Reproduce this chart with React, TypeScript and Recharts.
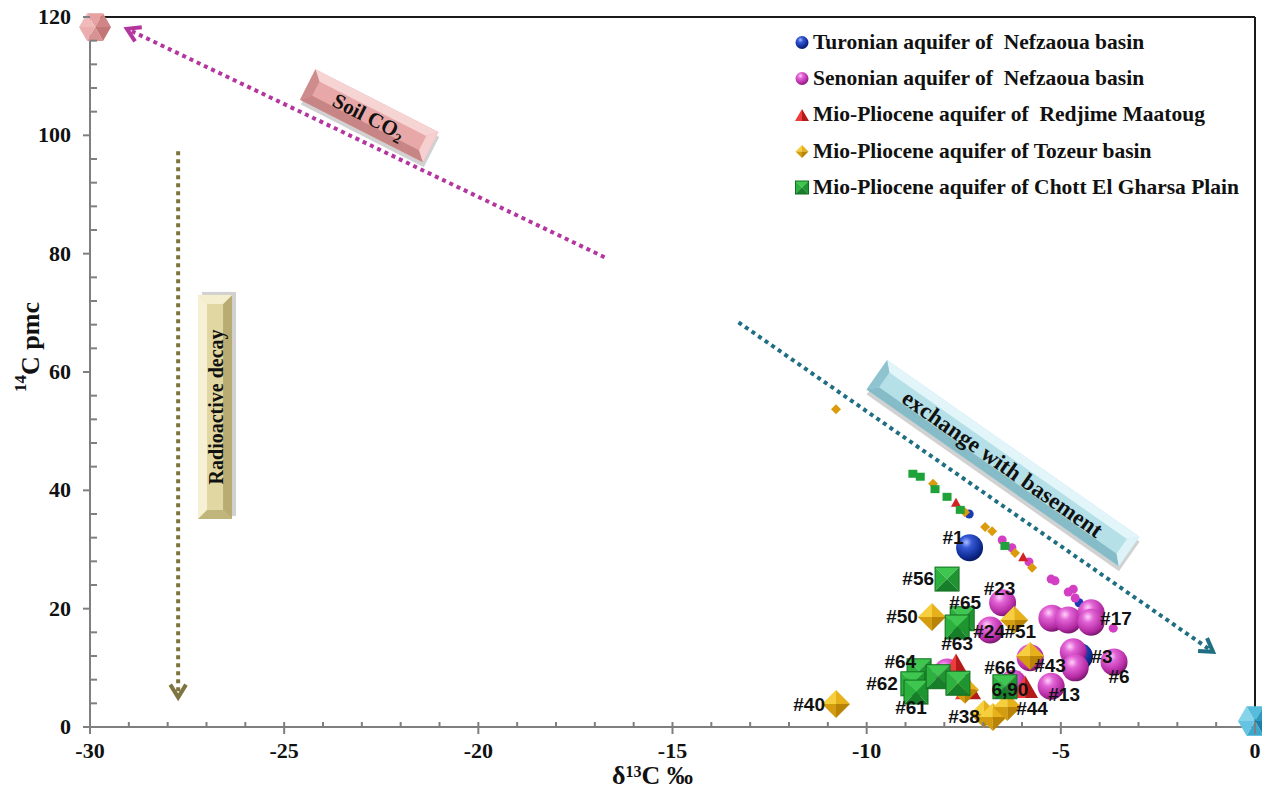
import React from "react";
import { ScatterChart, Scatter, XAxis, YAxis, ReferenceLine, ReferenceDot, Legend } from "recharts";

type Pt = { x: number; y: number; label?: string };

// Turonian aquifer of Nefzaoua basin
const turonianLarge: Pt[] = [
  { x: -7.35, y: 30.3, label: "#1" },
  { x: -4.52, y: 11.9, label: "#3" },
];
const turonianSmall: Pt[] = [
  { x: -7.36, y: 36.0 },
  { x: -4.53, y: 21.0 },
];

// Senonian aquifer of Nefzaoua basin
const senonianLarge: Pt[] = [
  { x: -6.5, y: 21.0, label: "#23" },
  { x: -6.82, y: 16.4, label: "#24" },
  { x: -5.23, y: 18.4 },
  { x: -4.81, y: 18.1 },
  { x: -4.22, y: 19.3 },
  { x: -4.22, y: 17.7, label: "#17" },
  { x: -4.68, y: 12.7 },
  { x: -4.63, y: 10.0 },
  { x: -3.63, y: 11.0, label: "#6" },
  { x: -5.25, y: 6.9, label: "#13" },
  { x: -5.79, y: 11.7 },
  { x: -6.23, y: 7.4, label: "#66" },
  { x: -7.93, y: 9.3 },
];
const senonianSmall: Pt[] = [
  { x: -6.51, y: 31.6 },
  { x: -6.26, y: 30.3 },
  { x: -5.82, y: 27.9 },
  { x: -5.25, y: 25.0 },
  { x: -5.15, y: 24.7 },
  { x: -4.81, y: 22.8 },
  { x: -4.68, y: 23.3 },
  { x: -4.63, y: 21.8 },
  { x: -4.22, y: 20.6 },
  { x: -3.65, y: 16.7 },
];

// Mio-Pliocene aquifer of Redjime Maatoug
const redjimeLarge: Pt[] = [
  { x: -7.7, y: 10.5 },
  { x: -7.39, y: 6.6 },
  { x: -5.92, y: 6.8 },
];
const redjimeSmall: Pt[] = [
  { x: -7.7, y: 37.9 },
  { x: -5.97, y: 28.7 },
];

// Mio-Pliocene aquifer of Tozeur basin
const tozeurLarge: Pt[] = [
  { x: -8.32, y: 18.6, label: "#50" },
  { x: -6.2, y: 18.1, label: "#51" },
  { x: -5.79, y: 12.0, label: "#43" },
  { x: -10.79, y: 3.9, label: "#40" },
  { x: -6.98, y: 2.2, label: "#38" },
  { x: -6.75, y: 1.7 },
  { x: -6.38, y: 3.4, label: "#44" },
  { x: -7.47, y: 6.3 },
];
const tozeurSmall: Pt[] = [
  { x: -10.79, y: 53.7 },
  { x: -8.29, y: 41.1 },
  { x: -7.47, y: 36.3 },
  { x: -6.95, y: 33.8 },
  { x: -6.77, y: 33.1 },
  { x: -6.18, y: 29.4 },
  { x: -5.74, y: 26.9 },
];

// Mio-Pliocene aquifer of Chott El Gharsa Plain
const gharsaLarge: Pt[] = [
  { x: -7.93, y: 25.0, label: "#56" },
  { x: -7.54, y: 18.3, label: "#65" },
  { x: -7.67, y: 16.9, label: "#63" },
  { x: -8.65, y: 9.5, label: "#64" },
  { x: -8.81, y: 7.3, label: "#62" },
  { x: -8.73, y: 5.9, label: "#61" },
  { x: -8.16, y: 8.5 },
  { x: -7.65, y: 7.4 },
  { x: -6.44, y: 6.8, label: "6,90" },
];
const gharsaSmall: Pt[] = [
  { x: -8.81, y: 42.8 },
  { x: -8.62, y: 42.3 },
  { x: -8.24, y: 40.2 },
  { x: -7.93, y: 38.9 },
  { x: -7.59, y: 36.7 },
  { x: -6.44, y: 30.6 },
];

// end members
const soilEnd: Pt[] = [{ x: -29.87, y: 118.3 }];
const basementEnd: Pt[] = [{ x: 0, y: 1 }];

const xTicks = [-30, -29, -28, -27, -26, -25, -24, -23, -22, -21, -20, -19, -18, -17, -16, -15,
  -14, -13, -12, -11, -10, -9, -8, -7, -6, -5, -4, -3, -2, -1, 0];
const yTicks = [0, 4, 8, 12, 16, 20, 24, 28, 32, 36, 40, 44, 48, 52, 56, 60, 64, 68, 72, 76, 80,
  84, 88, 92, 96, 100, 104, 108, 112, 116, 120];

const legendItems = [
  { name: "Turonian aquifer of  Nefzaoua basin", icon: "blue" },
  { name: "Senonian aquifer of  Nefzaoua basin", icon: "pink" },
  { name: "Mio-Pliocene aquifer of  Redjime Maatoug", icon: "red" },
  { name: "Mio-Pliocene aquifer of Tozeur basin", icon: "gold" },
  { name: "Mio-Pliocene aquifer of Chott El Gharsa Plain", icon: "green" },
];

// label placement next to the marker: dx, dy, anchor
const labelOffsets: Record<string, [number, number, string]> = {
  "#1": [-6, -10, "end"],
  "#3": [12, 0, "start"],
  "#23": [-3, -14, "middle"],
  "#24": [-1, 2, "middle"],
  "#17": [9, -4, "start"],
  "#6": [5, 15, "middle"],
  "#13": [13, 8, "middle"],
  "#66": [-13, -16, "middle"],
  "#50": [-14, 0, "end"],
  "#51": [6, 12, "middle"],
  "#43": [4, 9, "start"],
  "#40": [-11, 1, "end"],
  "#38": [-4, 3, "end"],
  "#44": [9, 2, "start"],
  "#56": [-13, -1, "end"],
  "#65": [3, -16, "middle"],
  "#63": [0, 16, "middle"],
  "#64": [-3, -9, "end"],
  "#62": [-15, 0, "end"],
  "#61": [-5, 15, "middle"],
  "6,90": [5, 3, "middle"],
};

const serif = "'Liberation Serif', 'Times New Roman', serif";

const sphere = (grad: string, r: number) => (p: any) => (
  <circle cx={p.cx} cy={p.cy} r={r} fill={`url(#${grad})`} />
);

const diamond = (r: number) => (p: any) => {
  const { cx, cy } = p;
  const t = `${cx},${cy - r}`, rt = `${cx + r},${cy}`, b = `${cx},${cy + r}`, l = `${cx - r},${cy}`, c = `${cx},${cy}`;
  return (
    <g>
      <polygon points={`${l} ${t} ${c}`} fill="#f6cf3e" />
      <polygon points={`${t} ${rt} ${c}`} fill="#e6b11b" />
      <polygon points={`${rt} ${b} ${c}`} fill="#b98306" />
      <polygon points={`${b} ${l} ${c}`} fill="#d49c0f" />
    </g>
  );
};

const pyramid = (s: number) => (p: any) => {
  const { cx, cy } = p;
  const h = s / 2;
  const tl = `${cx - h},${cy - h}`, tr = `${cx + h},${cy - h}`, br = `${cx + h},${cy + h}`, bl = `${cx - h},${cy + h}`, c = `${cx},${cy}`;
  return (
    <g>
      <polygon points={`${tl} ${tr} ${c}`} fill="#3fc650" />
      <polygon points={`${tl} ${bl} ${c}`} fill="#2cb03e" />
      <polygon points={`${tr} ${br} ${c}`} fill="#1f9532" />
      <polygon points={`${bl} ${br} ${c}`} fill="#177e29" />
      <rect x={cx - h} y={cy - h} width={s} height={s} fill="none" stroke="#12701f" strokeWidth={1} />
    </g>
  );
};

const cone = (s: number) => (p: any) => {
  const { cx, cy } = p;
  const h = s * 0.87;
  const top = `${cx},${cy - h / 2}`;
  return (
    <g>
      <polygon points={`${top} ${cx - s / 2},${cy + h / 2} ${cx},${cy + h / 2}`} fill="#ec3c3c" />
      <polygon points={`${top} ${cx},${cy + h / 2} ${cx + s / 2},${cy + h / 2}`} fill="#b41a1a" />
    </g>
  );
};

const hexagon = (r: number, shades: string[]) => (p: any) => {
  const { cx, cy } = p;
  const pts = [0, 1, 2, 3, 4, 5].map((i) => {
    const a = (Math.PI / 3) * i + Math.PI;
    return [cx + r * Math.cos(a), cy + r * Math.sin(a)];
  });
  return (
    <g>
      {pts.map((pt, i) => {
        const n = pts[(i + 1) % 6];
        return <polygon key={i} points={`${cx},${cy} ${pt[0]},${pt[1]} ${n[0]},${n[1]}`} fill={shades[i]} />;
      })}
    </g>
  );
};

const flat = (kind: string, color: string) => (p: any) => {
  const { cx, cy } = p;
  if (kind === "circle") return <circle cx={cx} cy={cy} r={4.5} fill={color} />;
  if (kind === "square") return <rect x={cx - 4.5} y={cy - 4} width={9} height={8} fill={color} />;
  if (kind === "diamond") return <polygon points={`${cx},${cy - 5} ${cx + 5},${cy} ${cx},${cy + 5} ${cx - 5},${cy}`} fill={color} />;
  return <polygon points={`${cx},${cy - 5} ${cx + 5},${cy + 4} ${cx - 5},${cy + 4}`} fill={color} />;
};

const labelShape = (p: any) => {
  const lab = p.payload?.label;
  if (!lab) return <g />;
  const o = labelOffsets[lab] || [0, 0, "middle"];
  return (
    <text x={p.cx + o[0]} y={p.cy + o[1]} textAnchor={o[2] as any} dominantBaseline="central"
      fontFamily="'Liberation Sans', Arial, sans-serif" fontWeight="bold" fontSize={19} fill="#111">
      {lab}
    </text>
  );
};

const arrow = (color: string) => (p: any) => {
  const { x1, y1, x2, y2 } = p;
  const ang = Math.atan2(y2 - y1, x2 - x1);
  const h = 15;
  const a1 = ang + Math.PI - 0.55;
  const a2 = ang + Math.PI + 0.55;
  return (
    <g>
      <line x1={x1} y1={y1} x2={x2} y2={y2} stroke={color} strokeWidth={4} strokeDasharray="4 4" />
      <polyline
        points={`${x2 + h * Math.cos(a1)},${y2 + h * Math.sin(a1)} ${x2},${y2} ${x2 + h * Math.cos(a2)},${y2 + h * Math.sin(a2)}`}
        fill="none" stroke={color} strokeWidth={4} />
    </g>
  );
};

const frameLine = (p: any) => (
  <line x1={p.x1} y1={p.y1} x2={p.x2} y2={p.y2} stroke="#1a1a1a" strokeWidth={2} />
);

const banner = (text: React.ReactNode, len: number, wid: number, angle: number, base: string, light: string, dark: string, fs: number) => (p: any) => {
  const L = len / 2, W = wid / 2, b = 9;
  return (
    <g transform={`translate(${p.cx},${p.cy}) rotate(${angle})`}>
      <rect x={-L + 3} y={-W + 4} width={len} height={wid} fill="#000" opacity={0.18} />
      <rect x={-L} y={-W} width={len} height={wid} fill={base} />
      <polygon points={`${-L},${-W} ${L},${-W} ${L - b},${-W + b} ${-L + b},${-W + b}`} fill={light} />
      <polygon points={`${-L},${W} ${L},${W} ${L - b},${W - b} ${-L + b},${W - b}`} fill={dark} />
      <polygon points={`${-L},${-W} ${-L + b},${-W + b} ${-L + b},${W - b} ${-L},${W}`} fill={dark} opacity={0.8} />
      <polygon points={`${L},${-W} ${L - b},${-W + b} ${L - b},${W - b} ${L},${W}`} fill={light} opacity={0.9} />
      <text x={0} y={1} textAnchor="middle" dominantBaseline="central" fontFamily={serif} fontWeight="bold" fontSize={fs} fill="#111">
        {text}
      </text>
    </g>
  );
};

const XTick = (p: any) => {
  const { x, y, payload } = p;
  const major = payload.value % 5 === 0;
  return (
    <g>
      <line x1={x} y1={y - 5} x2={x} y2={major ? y + 7 : y} stroke="#7f7f7f" strokeWidth={2} />
      {major && (
        <text x={x} y={y + 31} textAnchor="middle" fontFamily={serif} fontWeight="bold" fontSize={22} fill="#111">
          {payload.value}
        </text>
      )}
    </g>
  );
};

const YTick = (p: any) => {
  const { x, y, payload } = p;
  const major = payload.value % 20 === 0;
  return (
    <g>
      <line x1={major ? x - 7 : x} y1={y} x2={major ? x : x + 7} y2={y} stroke="#7f7f7f" strokeWidth={2} />
      {major && (
        <text x={x - 19} y={y + 7} textAnchor="end" fontFamily={serif} fontWeight="bold" fontSize={22} fill="#111">
          {payload.value}
        </text>
      )}
    </g>
  );
};

const LegendIcon = ({ kind }: { kind: string }) => {
  return (
    <svg width={15} height={15} style={{ marginRight: 3 }}>
      {kind === "blue" && <circle cx={7} cy={7.5} r={6.5} fill="url(#gBlue)" />}
      {kind === "pink" && <circle cx={7} cy={7.5} r={6.5} fill="url(#gPink)" />}
      {kind === "red" && cone(14)({ cx: 7, cy: 8 })}
      {kind === "gold" && diamond(6.5)({ cx: 7, cy: 7.5 })}
      {kind === "green" && pyramid(13)({ cx: 7, cy: 7.5 })}
    </svg>
  );
};

const renderLegend = () => (
  <div style={{ fontFamily: serif, fontWeight: "bold", fontSize: 21.5, color: "#111" }}>
    {legendItems.map((it) => (
      <div key={it.name} style={{ display: "flex", alignItems: "center", height: 36.3, whiteSpace: "pre" }}>
        <LegendIcon kind={it.icon} />
        <span>{it.name}</span>
      </div>
    ))}
  </div>
);

export default function App() {
  const labelled = [...turonianLarge, ...senonianLarge, ...redjimeLarge, ...tozeurLarge, ...gharsaLarge].filter((d) => d.label);

  return (
    <div style={{ position: "absolute", left: 0, top: 0, width: 1262, height: 793, background: "#fff" }}>
      <svg width={0} height={0} style={{ position: "absolute" }}>
        <defs>
          <radialGradient id="gBlue" cx="38%" cy="30%" r="70%">
            <stop offset="0%" stopColor="#a9bcff" />
            <stop offset="30%" stopColor="#3558d4" />
            <stop offset="80%" stopColor="#0e2a92" />
            <stop offset="100%" stopColor="#081b66" />
          </radialGradient>
          <radialGradient id="gPink" cx="38%" cy="30%" r="70%">
            <stop offset="0%" stopColor="#ffd2f8" />
            <stop offset="30%" stopColor="#e263d6" />
            <stop offset="80%" stopColor="#b42aa3" />
            <stop offset="100%" stopColor="#7d1a72" />
          </radialGradient>
        </defs>
      </svg>
      <ScatterChart width={1262} height={793} margin={{ top: 17, right: 7, left: 0, bottom: 0 }}>
        <XAxis
          type="number"
          dataKey="x"
          domain={[-30, 0]}
          ticks={xTicks}
          interval={0}
          height={66}
          tickSize={0}
          tickMargin={0}
          tickLine={false}
          tick={<XTick />}
          axisLine={{ stroke: "#7f7f7f", strokeWidth: 2 }}
          label={{
            content: (lp: any) => {
              const vb = lp.viewBox || { x: 90, y: 727, width: 1165 };
              return (
                <text x={vb.x + vb.width / 2 - 20} y={vb.y + 57} textAnchor="middle" fontFamily={serif} fontWeight="bold" fontSize={26} fill="#111">
                  δ<tspan fontSize={16} dy={-7}>13</tspan><tspan dy={7}>C ‰</tspan>
                </text>
              );
            },
          }}
        />
        <YAxis
          type="number"
          dataKey="y"
          domain={[0, 120]}
          ticks={yTicks}
          interval={0}
          width={90}
          tickSize={0}
          tickMargin={0}
          tickLine={false}
          tick={<YTick />}
          axisLine={{ stroke: "#7f7f7f", strokeWidth: 2 }}
          label={{
            content: (lp: any) => {
              const vb = lp.viewBox || { x: 0, y: 17, height: 710 };
              const cx = vb.x + 30;
              const cy = vb.y + vb.height / 2 - 25;
              return (
                <text x={cx} y={cy} transform={`rotate(-90 ${cx} ${cy})`} textAnchor="middle" dominantBaseline="central"
                  fontFamily={serif} fontWeight="bold" fontSize={26} fill="#111">
                  <tspan fontSize={17} dy={-10}>14</tspan><tspan dy={10}>C pmc</tspan>
                </text>
              );
            },
          }}
        />

        <ReferenceLine segment={[{ x: -30, y: 120 }, { x: 0, y: 120 }]} shape={frameLine} />
        <ReferenceLine segment={[{ x: 0, y: 0 }, { x: 0, y: 120 }]} shape={frameLine} />

        <ReferenceLine segment={[{ x: -16.75, y: 79.4 }, { x: -29.05, y: 118.0 }]} shape={arrow("#b5359f")} />
        <ReferenceLine segment={[{ x: -27.73, y: 97.3 }, { x: -27.73, y: 5.0 }]} shape={arrow("#7d7440")} />
        <ReferenceLine segment={[{ x: -13.3, y: 68.4 }, { x: -1.08, y: 12.7 }]} shape={arrow("#1f6e82")} />

        <ReferenceDot x={-22.81} y={103.3} r={1}
          shape={banner(<>Soil CO<tspan fontSize={14} dy={6}>2</tspan></>, 138, 34, 27, "#e9a8a8", "#f7d4d4", "#c88585", 21)} />
        <ReferenceDot x={-26.78} y={54.1} r={1}
          shape={banner("Radioactive decay", 224, 34, -90, "#e0d7a2", "#f6f1d4", "#b8ac72", 20)} />
        <ReferenceDot x={-6.49} y={44.6} r={1}
          shape={banner("exchange with basement", 308, 36, 35, "#b5e0e8", "#e2f5f9", "#86bcc8", 23)} />

        <Scatter data={turonianSmall} shape={flat("circle", "#1b3bb5")} isAnimationActive={false} />
        <Scatter data={senonianSmall} shape={flat("circle", "#d43ec4")} isAnimationActive={false} />
        <Scatter data={redjimeSmall} shape={flat("triangle", "#d42222")} isAnimationActive={false} />
        <Scatter data={tozeurSmall} shape={flat("diamond", "#db9b0d")} isAnimationActive={false} />
        <Scatter data={gharsaSmall} shape={flat("square", "#1fa23a")} isAnimationActive={false} />

        <Scatter data={turonianLarge} shape={sphere("gBlue", 13.5)} isAnimationActive={false} />
        <Scatter data={senonianLarge} shape={sphere("gPink", 13.5)} isAnimationActive={false} />
        <Scatter data={redjimeLarge} shape={cone(26)} isAnimationActive={false} />
        <Scatter data={tozeurLarge} shape={diamond(14)} isAnimationActive={false} />
        <Scatter data={gharsaLarge} shape={pyramid(24)} isAnimationActive={false} />

        <Scatter data={soilEnd} shape={hexagon(16, ["#f0baba", "#e6a2a2", "#d08686", "#c27676", "#d99292", "#ebadad"])} isAnimationActive={false} />
        <Scatter data={basementEnd} shape={hexagon(17, ["#86d4ea", "#56bcdc", "#2f98bf", "#1f7fa4", "#3ba8cd", "#66c4e2"])} isAnimationActive={false} />

        <Scatter data={labelled} shape={labelShape} isAnimationActive={false} />

        <Legend layout="vertical" align="center" verticalAlign="middle" content={renderLegend}
          wrapperStyle={{ top: 24, left: 795, width: 467 }} />
      </ScatterChart>
    </div>
  );
}
